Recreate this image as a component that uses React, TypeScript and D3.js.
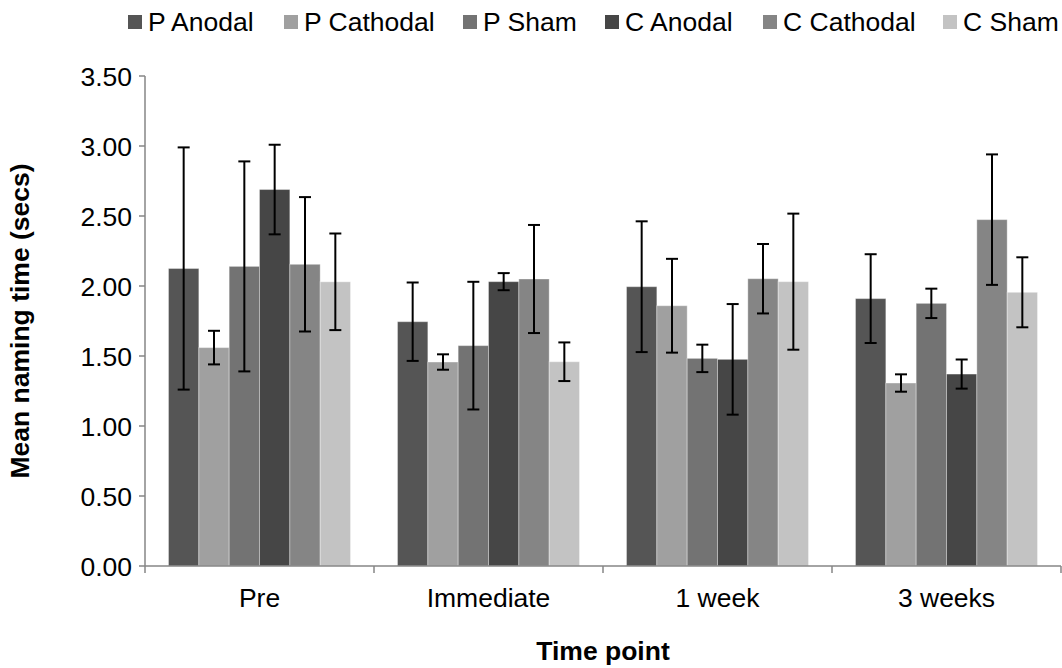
import React, { useEffect, useRef } from "react";
import * as d3 from "d3";

const timePoints = ["Pre", "Immediate", "1 week", "3 weeks"];
const seriesNames = ["P Anodal", "P Cathodal", "P Sham", "C Anodal", "C Cathodal", "C Sham"];
const seriesColors = ["#555555", "#a0a0a0", "#737373", "#464646", "#858585", "#c3c3c3"];

// Mean naming time per series, one value per time point
const pAnodal = [2.125, 1.745, 1.995, 1.91];
const pCathodal = [1.56, 1.457, 1.859, 1.307];
const pSham = [2.14, 1.574, 1.483, 1.876];
const cAnodal = [2.689, 2.031, 1.476, 1.371];
const cCathodal = [2.155, 2.05, 2.052, 2.474];
const cSham = [2.03, 1.459, 2.031, 1.955];

// Error bar half-lengths
const pAnodalErr = [0.865, 0.28, 0.467, 0.317];
const pCathodalErr = [0.12, 0.055, 0.335, 0.062];
const pShamErr = [0.75, 0.456, 0.098, 0.105];
const cAnodalErr = [0.32, 0.061, 0.395, 0.104];
const cCathodalErr = [0.48, 0.386, 0.248, 0.466];
const cShamErr = [0.345, 0.138, 0.486, 0.25];

const yTicks = [0, 0.5, 1, 1.5, 2, 2.5, 3, 3.5];

const means = [pAnodal, pCathodal, pSham, cAnodal, cCathodal, cSham];
const errs = [pAnodalErr, pCathodalErr, pShamErr, cAnodalErr, cCathodalErr, cShamErr];

const W = 1062;
const H = 668;
const FONT = "Liberation Sans, Arial, sans-serif";
const FS = 26.5;

export default function App() {
  const ref = useRef<SVGSVGElement | null>(null);

  useEffect(() => {
    const svg = d3.select(ref.current);
    svg.selectAll("*").remove();

    const left = 145;
    const right = 1061;
    const top = 76;
    const bottom = 566;

    const x0 = d3.scaleBand<string>().domain(timePoints).range([left, right]).paddingInner(0).paddingOuter(0);
    const groupPad = 23.5;
    const x1 = d3
      .scaleBand<string>()
      .domain(seriesNames)
      .range([groupPad, x0.bandwidth() - groupPad]);
    const y = d3.scaleLinear().domain([0, 3.5]).range([bottom, top]);

    const g = svg.append("g");

    // bars
    seriesNames.forEach((name, si) => {
      timePoints.forEach((tp, ti) => {
        const v = means[si][ti];
        g.append("rect")
          .attr("x", (x0(tp) as number) + (x1(name) as number))
          .attr("y", y(v))
          .attr("width", x1.bandwidth())
          .attr("height", y(0) - y(v))
          .attr("fill", seriesColors[si])
          .attr("stroke", "#ffffff")
          .attr("stroke-opacity", 0.35)
          .attr("stroke-width", 1);
      });
    });

    // error bars
    seriesNames.forEach((name, si) => {
      timePoints.forEach((tp, ti) => {
        const v = means[si][ti];
        const e = errs[si][ti];
        const cx = (x0(tp) as number) + (x1(name) as number) + x1.bandwidth() / 2;
        const eg = g.append("g").attr("stroke", "#000").attr("stroke-width", 2);
        eg.append("line").attr("x1", cx).attr("x2", cx).attr("y1", y(v + e)).attr("y2", y(v - e));
        eg.append("line").attr("x1", cx - 6).attr("x2", cx + 6).attr("y1", y(v + e)).attr("y2", y(v + e));
        eg.append("line").attr("x1", cx - 6).attr("x2", cx + 6).attr("y1", y(v - e)).attr("y2", y(v - e));
      });
    });

    // axes
    const axisColor = "#868686";
    g.append("line")
      .attr("x1", left)
      .attr("x2", left)
      .attr("y1", y(3.5))
      .attr("y2", bottom)
      .attr("stroke", axisColor)
      .attr("stroke-width", 1.5);
    g.append("line")
      .attr("x1", left)
      .attr("x2", right)
      .attr("y1", bottom)
      .attr("y2", bottom)
      .attr("stroke", axisColor)
      .attr("stroke-width", 1.5);

    yTicks.forEach((t) => {
      g.append("line")
        .attr("x1", left - 6)
        .attr("x2", left)
        .attr("y1", y(t))
        .attr("y2", y(t))
        .attr("stroke", axisColor)
        .attr("stroke-width", 1.5);
      g.append("text")
        .attr("x", left - 13)
        .attr("y", y(t))
        .attr("dy", "0.36em")
        .attr("text-anchor", "end")
        .attr("font-family", FONT)
        .attr("font-size", FS)
        .attr("fill", "#000")
        .text(d3.format(".2f")(t));
    });

    const bounds = timePoints.map((tp) => x0(tp) as number).concat([right]);
    bounds.forEach((bx) => {
      g.append("line")
        .attr("x1", bx)
        .attr("x2", bx)
        .attr("y1", bottom)
        .attr("y2", bottom + 7)
        .attr("stroke", axisColor)
        .attr("stroke-width", 1.5);
    });

    timePoints.forEach((tp) => {
      g.append("text")
        .attr("x", (x0(tp) as number) + x0.bandwidth() / 2)
        .attr("y", 607)
        .attr("text-anchor", "middle")
        .attr("font-family", FONT)
        .attr("font-size", FS)
        .attr("fill", "#000")
        .text(tp);
    });

    // axis titles
    g.append("text")
      .attr("x", (left + right) / 2)
      .attr("y", 660)
      .attr("text-anchor", "middle")
      .attr("font-family", FONT)
      .attr("font-size", FS)
      .attr("font-weight", "bold")
      .attr("fill", "#000")
      .text("Time point");

    g.append("text")
      .attr("transform", `translate(29, ${(top + bottom) / 2}) rotate(-90)`)
      .attr("text-anchor", "middle")
      .attr("font-family", FONT)
      .attr("font-size", FS)
      .attr("font-weight", "bold")
      .attr("fill", "#000")
      .text("Mean naming time (secs)");

    // legend
    const legendX = [128, 284, 463, 605, 763, 943];
    seriesNames.forEach((name, si) => {
      const lx = legendX[si];
      g.append("rect")
        .attr("x", lx)
        .attr("y", 15)
        .attr("width", 14)
        .attr("height", 14)
        .attr("fill", seriesColors[si]);
      g.append("text")
        .attr("x", lx + 20)
        .attr("y", 31)
        .attr("font-family", FONT)
        .attr("font-size", FS)
        .attr("fill", "#000")
        .text(name);
    });
  }, []);

  return (
    <svg
      ref={ref}
      width={W}
      height={H}
      style={{ position: "absolute", left: 0, top: 0, background: "#fff", display: "block" }}
    />
  );
}
